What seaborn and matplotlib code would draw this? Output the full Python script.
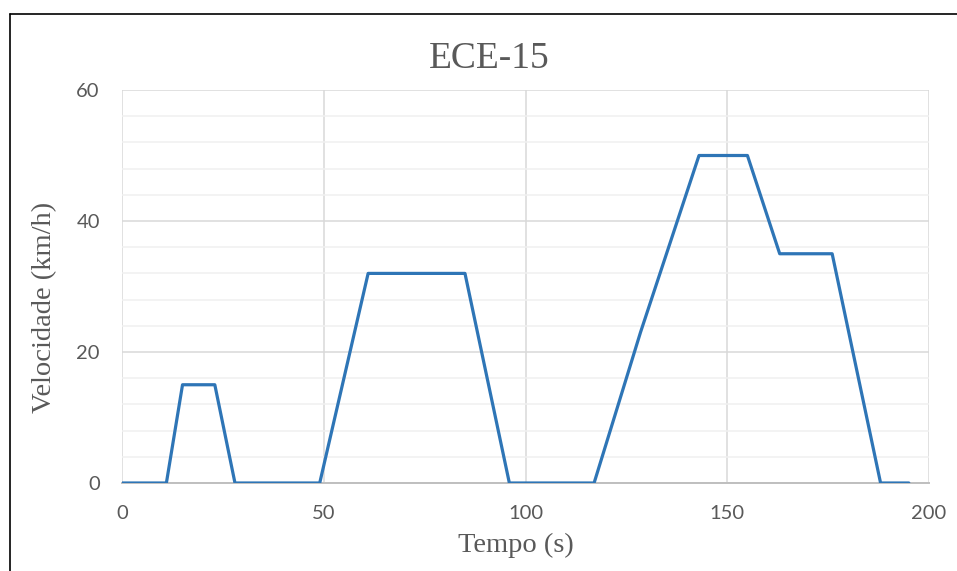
import matplotlib
matplotlib.use("Agg")
import matplotlib.pyplot as plt
from matplotlib.ticker import MultipleLocator
from matplotlib.lines import Line2D
import seaborn as sns
import pandas as pd

# ECE-15 urban driving cycle: breakpoints of the speed profile
time_s = [0, 11, 15, 23, 28, 49, 61, 85, 96, 117, 128.5, 143, 155, 163, 176, 188, 195]
speed_kmh = [0, 0, 15, 15, 0, 0, 32, 32, 0, 0, 23, 50, 50, 35, 35, 0, 0]

x_ticks = [0, 50, 100, 150, 200]
y_ticks = [0, 20, 40, 60]

title_text = "ECE-15"
x_label = "Tempo (s)"
y_label = "Velocidade (km/h)"

sns.set_theme(style="white")
plt.rcParams["font.family"] = ["Lato", "DejaVu Sans"]

text_grey = "#595959"
line_blue = "#2e75b6"

df = pd.DataFrame({"t": time_s, "v": speed_kmh})

fig = plt.figure(figsize=(9.57, 5.71), dpi=100)
ax = fig.add_axes([122 / 957, 1 - 483 / 571, (929 - 122) / 957, (483 - 90) / 571])

sns.lineplot(data=df, x="t", y="v", ax=ax, sort=False, estimator=None,
             color=line_blue, linewidth=2.3, zorder=3)

ax.set_xlim(0, 200)
ax.set_ylim(0, 60)
ax.set_xticks(x_ticks)
ax.set_yticks(y_ticks)
ax.yaxis.set_minor_locator(MultipleLocator(4))

ax.grid(which="major", axis="both", color="#d9d9d9", linewidth=1.1, zorder=0)
ax.grid(which="minor", axis="y", color="#f0f0f0", linewidth=1.1, zorder=0)
ax.set_axisbelow(True)

for side in ["top", "right", "left"]:
    ax.spines[side].set_visible(False)
ax.spines["bottom"].set_color("#bfbfbf")
ax.spines["bottom"].set_linewidth(1.4)
ax.spines["bottom"].set_zorder(2)

ax.tick_params(axis="both", which="both", length=0, labelsize=14.5,
               labelcolor=text_grey, pad=16)
ax.set_xlabel("")
ax.set_ylabel("")

serif = ["Liberation Serif", "DejaVu Serif"]
fig.text(489 / 957, 1 - 68 / 571, title_text, family=serif, fontsize=27,
         color=text_grey, ha="center", va="baseline")
fig.text(516 / 957, 1 - 552 / 571, x_label, family=serif, fontsize=20.5,
         color=text_grey, ha="center", va="baseline")
fig.text(45 / 957, 1 - 307 / 571, y_label, family=serif, fontsize=20.5,
         color=text_grey, ha="center", va="center", rotation=90)

# outer frame edges (top and left)
fig.add_artist(Line2D([9.5 / 957, 1.0], [1 - 13.5 / 571, 1 - 13.5 / 571],
                      transform=fig.transFigure, color="black", linewidth=1.2))
fig.add_artist(Line2D([9.5 / 957, 9.5 / 957], [0.0, 1 - 13.5 / 571],
                      transform=fig.transFigure, color="black", linewidth=1.2))

fig.savefig("out.png", dpi=100, facecolor="white")
